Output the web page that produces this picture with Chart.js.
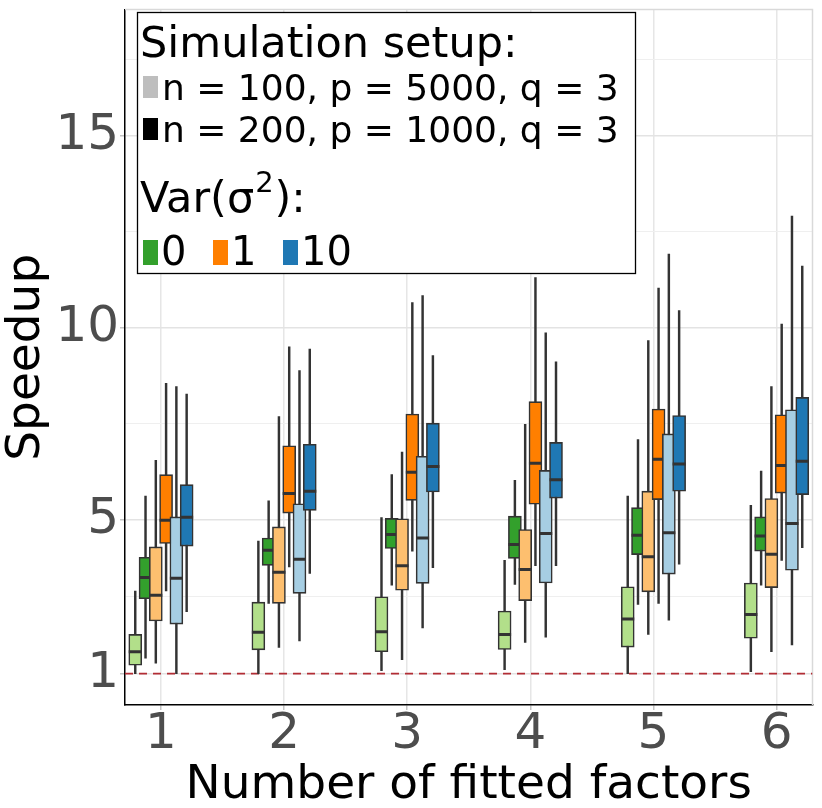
<!DOCTYPE html>
<html>
<head>
<meta charset="utf-8">
<title>Speedup by number of fitted factors</title>
<script src="https://cdn.jsdelivr.net/npm/chart.js@4.4.1/dist/chart.umd.min.js"></script>
<style>
    html, body { margin: 0; padding: 0; background: #ffffff; }
    #wrap { width: 822px; height: 808px; position: relative; }
</style>
</head>
<body>
<div id="wrap"><canvas id="speedupChart"></canvas></div>
<script>
// x categories
const factors = [1, 2, 3, 4, 5, 6];

// one box per factor: [lower whisker, Q1, median, Q3, upper whisker]
const var0n100 = [[1.00, 1.22, 1.57, 2.02, 3.15], [1.00, 1.62, 2.08, 2.86, 4.45], [1.08, 1.57, 2.09, 3.00, 5.06],
                  [1.10, 1.63, 2.02, 2.63, 3.95], [1.00, 1.69, 2.42, 3.26, 5.62], [1.05, 1.92, 2.54, 3.36, 5.38]];
const var0n200 = [[1.40, 2.95, 3.50, 4.03, 5.62], [2.83, 3.82, 4.21, 4.53, 5.50], [3.30, 4.26, 4.62, 5.04, 6.18],
                  [3.32, 4.00, 4.36, 5.10, 6.03], [2.80, 4.10, 4.60, 5.32, 7.09], [3.30, 4.19, 4.58, 5.08, 6.27]];
const var1n100 = [[1.27, 2.37, 3.04, 4.30, 6.55], [1.68, 2.83, 3.64, 4.82, 7.69], [1.36, 3.17, 3.81, 5.03, 6.77],
                  [1.81, 2.90, 3.71, 4.75, 7.49], [2.02, 3.13, 4.04, 5.75, 9.67], [1.57, 3.24, 4.11, 5.56, 8.47]];
const var1n200 = [[3.15, 4.39, 4.99, 6.18, 8.56], [3.78, 5.18, 5.69, 6.93, 9.51], [4.19, 5.51, 6.24, 7.76, 10.66],
                  [3.81, 5.41, 6.48, 8.08, 11.31], [2.83, 5.53, 6.58, 7.89, 11.04], [3.95, 5.70, 6.42, 7.74, 10.10]];
const var10n100 = [[1.00, 2.29, 3.48, 5.08, 8.47], [1.85, 3.09, 3.98, 5.42, 8.89], [2.19, 3.35, 4.53, 6.66, 10.84],
                   [1.95, 3.36, 4.65, 6.29, 9.87], [2.39, 3.59, 4.67, 7.24, 11.92], [1.75, 3.69, 4.91, 7.87, 12.91]];
const var10n200 = [[2.61, 4.32, 5.07, 5.92, 8.28], [3.61, 5.25, 5.75, 6.97, 9.45], [3.76, 5.73, 6.39, 7.52, 9.28],
                   [3.81, 5.57, 6.05, 7.02, 9.12], [3.85, 5.75, 6.46, 7.72, 10.45], [4.28, 5.66, 6.53, 8.19, 11.61]];

const yTickLabels = [1, 5, 10, 15];
const yMinorBreaks = [3, 7.5, 12.5, 17];
const noSpeedup = 1;

const setupTitle = 'Simulation setup:';
const setupLabels = ['n = 100, p = 5000, q = 3', 'n = 200, p = 1000, q = 3'];
const varLabels = ['0', '1', '10'];

const seriesList = [var0n100, var0n200, var1n100, var1n200, var10n100, var10n200];
const fills = ['#b2df8a', '#33a02c', '#fdbf6f', '#ff7f00', '#a6cee3', '#1f78b4'];
const varColors = ['#33a02c', '#ff7f00', '#1f78b4'];
const setupColors = ['#bebebe', '#000000'];

const xMin = 0.708, xMax = 6.292, yMin = 0.183, yMax = 18.29;
const dodge = 0.0835;
const edge = '#333333';

Chart.defaults.font.family = '"DejaVu Sans", sans-serif';

let datasets = [];
datasets.push({
    type: 'line',
    data: [{x: xMin, y: noSpeedup}, {x: xMax, y: noSpeedup}],
    borderColor: '#b22d35',
    borderWidth: 1.8,
    borderDash: [8, 6],
    pointRadius: 0,
    order: 200
});

for (let s = 0; s < seriesList.length; s++) {
    let stats = seriesList[s];
    let shift = (s - 2.5) * dodge;
    let order = 100 - 3 * s;
    // whisker
    datasets.push({
        type: 'bar',
        data: stats.map((b, i) => ({x: factors[i] + shift, y: [b[0], b[4]]})),
        backgroundColor: edge,
        barThickness: 1.8,
        grouped: false,
        order: order
    });
    // box
    datasets.push({
        type: 'bar',
        data: stats.map((b, i) => ({x: factors[i] + shift, y: [b[1], b[3]]})),
        backgroundColor: fills[s],
        borderColor: edge,
        borderWidth: 1.6,
        borderSkipped: false,
        barThickness: 13,
        grouped: false,
        order: order - 1
    });
    // median
    datasets.push({
        type: 'scatter',
        data: stats.map((b, i) => ({x: factors[i] + shift, y: b[2]})),
        pointStyle: 'line',
        pointRadius: 6.5,
        pointBorderWidth: 3,
        pointBorderColor: edge,
        order: order - 2
    });
}

const panelBorder = {
    id: 'panelBorder',
    beforeDatasetsDraw(chart) {
        const {ctx, chartArea} = chart;
        ctx.save();
        ctx.strokeStyle = '#d9d9d9';
        ctx.lineWidth = 1.5;
        ctx.beginPath();
        ctx.moveTo(chartArea.left, chartArea.top);
        ctx.lineTo(chartArea.right, chartArea.top);
        ctx.lineTo(chartArea.right, chartArea.bottom);
        ctx.stroke();
        ctx.restore();
    }
};

const legendBox = {
    id: 'legendBox',
    afterDraw(chart) {
        const ctx = chart.ctx;
        ctx.save();
        ctx.fillStyle = '#ffffff';
        ctx.fillRect(137, 12, 499, 262);
        ctx.strokeStyle = '#000000';
        ctx.lineWidth = 1.3;
        ctx.strokeRect(137.5, 12.5, 498, 261);

        ctx.textBaseline = 'alphabetic';
        ctx.textAlign = 'left';
        ctx.fillStyle = '#000000';
        ctx.font = '43px "DejaVu Sans"';
        ctx.fillText(setupTitle, 140, 57);

        ctx.font = '36px "DejaVu Sans"';
        const rows = [100, 142];
        for (let i = 0; i < setupLabels.length; i++) {
            ctx.fillStyle = setupColors[i];
            ctx.fillRect(143, rows[i] - 24, 15, 22);
            ctx.fillStyle = '#000000';
            ctx.fillText(setupLabels[i], 162, rows[i]);
        }

        // Var(sigma^2):
        ctx.font = '43px "DejaVu Sans"';
        let x = 140;
        ctx.fillText('Var(σ', x, 212);
        x += ctx.measureText('Var(σ').width + 1;
        ctx.font = '29px "DejaVu Sans"';
        ctx.fillText('2', x, 192);
        x += ctx.measureText('2').width + 1;
        ctx.font = '43px "DejaVu Sans"';
        ctx.fillText('):', x, 212);

        ctx.font = '40px "DejaVu Sans"';
        const keyX = [143, 213, 283];
        for (let i = 0; i < varLabels.length; i++) {
            ctx.fillStyle = varColors[i];
            ctx.fillRect(keyX[i], 240, 15, 25);
            ctx.fillStyle = '#000000';
            ctx.fillText(varLabels[i], keyX[i] + 18, 265);
        }
        ctx.restore();
    }
};

new Chart(document.getElementById('speedupChart'), {
    type: 'bar',
    data: { datasets: datasets },
    options: {
        responsive: true,
        maintainAspectRatio: false,
        animation: false,
        events: [],
        layout: { padding: { top: 7, right: 2, left: 0, bottom: 0 } },
        plugins: {
            legend: { display: false },
            tooltip: { enabled: false }
        },
        scales: {
            x: {
                type: 'linear',
                min: xMin,
                max: xMax,
                offset: false,
                afterBuildTicks: function (sc) {
                    sc.ticks = factors.map(v => ({value: v}));
                },
                afterFit: function (sc) {
                    sc.height = 103;
                    sc.paddingLeft = 0;
                    sc.paddingRight = 0;
                },
                ticks: {
                    autoSkip: false,
                    maxRotation: 0,
                    color: '#4d4d4d',
                    padding: 0,
                    font: { size: 50, lineHeight: 1 },
                    callback: v => String(v)
                },
                grid: {
                    offset: false,
                    color: '#e6e6e6',
                    lineWidth: 1.5,
                    tickLength: 5,
                    tickColor: '#c4c4c4'
                },
                border: { color: '#000000', width: 1.5 },
                title: {
                    display: true,
                    text: 'Number of fitted factors',
                    color: '#000000',
                    font: { size: 47, lineHeight: 1 },
                    padding: { top: 0, bottom: -1 }
                }
            },
            y: {
                min: yMin,
                max: yMax,
                afterBuildTicks: function (sc) {
                    sc.ticks = yTickLabels.concat(yMinorBreaks).sort((a, b) => a - b).map(v => ({value: v}));
                },
                afterFit: function (sc) {
                    sc.width = 125;
                    sc.paddingTop = 0;
                    sc.paddingBottom = 0;
                },
                ticks: {
                    autoSkip: false,
                    color: '#4d4d4d',
                    padding: 1,
                    font: { size: 50 },
                    callback: v => yTickLabels.includes(v) ? String(v) : ''
                },
                grid: {
                    color: c => yTickLabels.includes(c.tick.value) ? '#e3e3e3' : '#efefef',
                    lineWidth: c => yTickLabels.includes(c.tick.value) ? 1.5 : 1,
                    tickLength: 5,
                    tickColor: c => yTickLabels.includes(c.tick.value) ? '#c4c4c4' : 'rgba(0,0,0,0)'
                },
                border: { color: '#000000', width: 1.5 },
                title: {
                    display: true,
                    text: 'Speedup',
                    color: '#000000',
                    font: { size: 47, lineHeight: 1 },
                    padding: { top: 3, bottom: 0 }
                }
            }
        }
    },
    plugins: [panelBorder, legendBox]
});
</script>
</body>
</html>
